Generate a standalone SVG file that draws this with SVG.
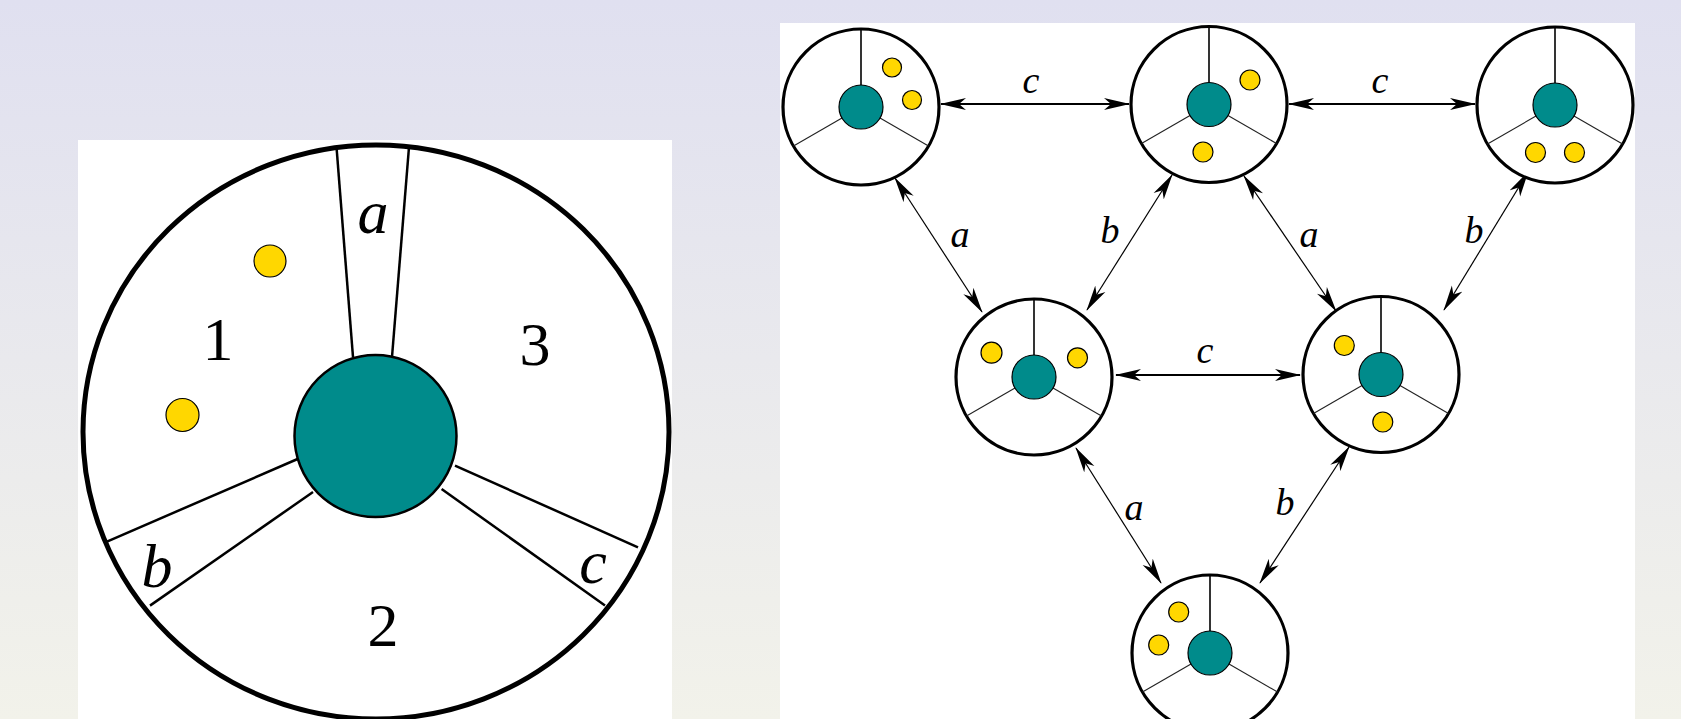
<svg xmlns="http://www.w3.org/2000/svg" xmlns:xlink="http://www.w3.org/1999/xlink" width="1681" height="719" viewBox="0 0 1681 719">
<defs>
<linearGradient id="bg" x1="0" y1="0" x2="0" y2="1">
<stop offset="0" stop-color="#e0e0f0"/>
<stop offset="1" stop-color="#f2f2ea"/>
</linearGradient>
<marker id="ah" viewBox="0 0 26 13" refX="25" refY="6.5" markerWidth="26" markerHeight="13" markerUnits="userSpaceOnUse" orient="auto-start-reverse">
<path d="M0,0.5 L26,6.5 L0,12.5 L7,6.5 Z" fill="#000"/>
</marker>
<g id="nodebase">
<circle r="78" fill="#fff" stroke="#000" stroke-width="3.2"/>
<line x1="0" y1="-78" x2="0" y2="-22" stroke="#000" stroke-width="1.6"/>
<line x1="-19" y1="11" x2="-67.5" y2="39" stroke="#222" stroke-width="1.1"/>
<line x1="19" y1="11" x2="67.5" y2="39" stroke="#222" stroke-width="1.1"/>
<circle r="22" fill="#008b8b" stroke="#000" stroke-width="1.2"/>
</g>
</defs>
<style>
.dot{fill:#ffd700;stroke:#000;stroke-width:1.2}
.big{font-family:"Liberation Serif",serif;font-size:62px;fill:#000;text-anchor:middle}
.it{font-style:italic}
.sm{font-family:"Liberation Serif",serif;font-style:italic;font-size:38px;fill:#000;text-anchor:middle}
.edge{stroke:#000;fill:none;marker-start:url(#ah);marker-end:url(#ah)}
.h{stroke-width:2}
.d{stroke-width:1.2}
</style>
<rect x="0" y="0" width="1681" height="719" fill="url(#bg)"/>
<rect x="78" y="140" width="594" height="579" fill="#fff"/>
<rect x="780" y="23" width="855" height="696" fill="#fff"/>

<g id="left-diagram">
<ellipse cx="376" cy="432" rx="293" ry="287" fill="#fff" stroke="#000" stroke-width="5"/>
<g stroke="#000" stroke-width="2.5" fill="none">
<line x1="336.5" y1="147" x2="353" y2="357"/>
<line x1="409" y1="147" x2="392" y2="357"/>
<line x1="297.6" y1="459" x2="107" y2="541.6"/>
<line x1="313" y1="492" x2="150" y2="605.6"/>
<line x1="455" y1="465.7" x2="638" y2="547.3"/>
<line x1="441.6" y1="489" x2="605" y2="605.6"/>
</g>
<circle cx="375.5" cy="436" r="81" fill="#008b8b" stroke="#000" stroke-width="2.5"/>
<circle class="dot" cx="270" cy="261" r="16" stroke-width="2.5"/>
<circle class="dot" cx="182.5" cy="415" r="16.5" stroke-width="2.5"/>
<text class="big it" x="373" y="233">a</text>
<text class="big" x="218" y="360">1</text>
<text class="big" x="535" y="365">3</text>
<text class="big" x="383" y="646">2</text>
<text class="big it" x="157" y="587">b</text>
<text class="big it" x="593" y="583">c</text>
</g>

<g id="connectors">
<line class="edge h" x1="941" y1="104" x2="1129" y2="104"/>
<line class="edge h" x1="1289" y1="104" x2="1475" y2="104"/>
<line class="edge h" x1="1116" y1="375" x2="1300" y2="375"/>
<line class="edge d" x1="895" y1="178" x2="982" y2="312"/>
<line class="edge d" x1="1172" y1="175" x2="1087" y2="310"/>
<line class="edge d" x1="1244" y1="176" x2="1336" y2="311"/>
<line class="edge d" x1="1528" y1="172" x2="1444" y2="310"/>
<line class="edge d" x1="1076" y1="448" x2="1161" y2="583"/>
<line class="edge d" x1="1349" y1="447" x2="1260" y2="583"/>
<text class="sm" x="1031" y="93">c</text>
<text class="sm" x="1380" y="93">c</text>
<text class="sm" x="1205" y="363">c</text>
<text class="sm" x="960" y="247">a</text>
<text class="sm" x="1110" y="243">b</text>
<text class="sm" x="1309" y="247">a</text>
<text class="sm" x="1474" y="243">b</text>
<text class="sm" x="1134" y="520">a</text>
<text class="sm" x="1285" y="515">b</text>
</g>

<g id="node1" transform="translate(861,107)">
<use xlink:href="#nodebase"/>
<circle class="dot" cx="31" cy="-39.5" r="9.5"/>
<circle class="dot" cx="51" cy="-7" r="9.5"/>
</g>
<g id="node2" transform="translate(1209,104.5)">
<use xlink:href="#nodebase"/>
<circle class="dot" cx="41" cy="-24.5" r="10"/>
<circle class="dot" cx="-6" cy="47.5" r="10"/>
</g>
<g id="node3" transform="translate(1555,105)">
<use xlink:href="#nodebase"/>
<circle class="dot" cx="-19.5" cy="47.5" r="10"/>
<circle class="dot" cx="19.5" cy="47.5" r="10"/>
</g>
<g id="node4" transform="translate(1034,377)">
<use xlink:href="#nodebase"/>
<circle class="dot" cx="-42.5" cy="-24.3" r="10.5"/>
<circle class="dot" cx="43.5" cy="-19.2" r="10"/>
</g>
<g id="node5" transform="translate(1381,374.5)">
<use xlink:href="#nodebase"/>
<circle class="dot" cx="-36.7" cy="-29" r="10"/>
<circle class="dot" cx="1.8" cy="47.5" r="10"/>
</g>
<g id="node6" transform="translate(1210,653)">
<use xlink:href="#nodebase"/>
<circle class="dot" cx="-31.3" cy="-41" r="10"/>
<circle class="dot" cx="-51.3" cy="-8" r="10"/>
</g>
</svg>
